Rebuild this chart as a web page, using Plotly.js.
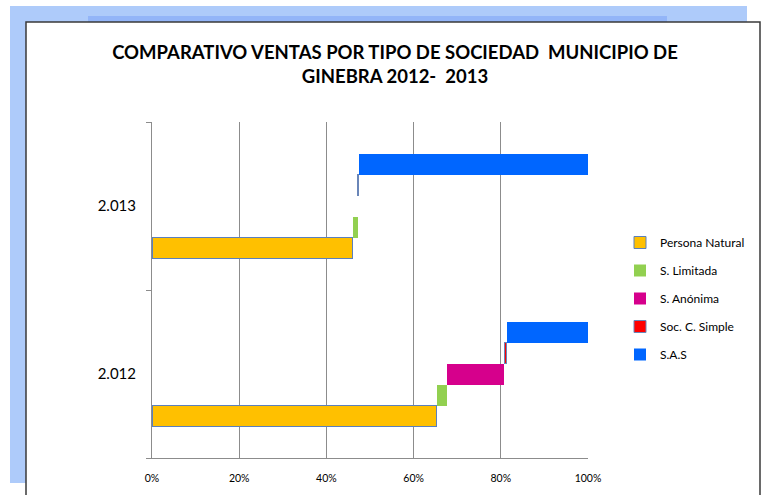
<!DOCTYPE html>
<html>
<head>
<meta charset="utf-8">
<script src="https://cdn.plot.ly/plotly-3.0.1.min.js"></script>
<style>html,body{margin:0;padding:0;background:#fff;}#chart{width:765px;height:495px;}</style>
</head>
<body>
<div id="chart"></div>
<script>
// ---- data (shares of total sales) ----
const years = ['2.012', '2.013'];
const seriesNames = ['Persona Natural', 'S. Limitada', 'S. Anónima', 'Soc. C. Simple', 'S.A.S'];
const personaNatural = [0.653, 0.460];
const sLimitada      = [0.023, 0.012];
const sAnonima       = [0.132, 0.000];
const socCSimple     = [0.006, 0.002];
const sas            = [0.186, 0.526];
const xTickVals = [0, 0.2, 0.4, 0.6, 0.8, 1.0];

// ---- styles ----
const fills = ['#FFC000', '#92D050', '#D6008C', '#FF0000', '#0066FF'];
const lineColors = ['#5B80BD', 'rgba(0,0,0,0)', 'rgba(0,0,0,0)', '#6A86B8', 'rgba(0,0,0,0)'];
const lineWidths = [1, 0, 0, 1, 0];
const values = [personaNatural, sLimitada, sAnonima, socCSimple, sas];
const barW = 0.125;
const offsets = [-0.3125, -0.1875, -0.0625, 0.0625, 0.1875];

const traces = seriesNames.map((name, i) => ({
  type: 'bar',
  orientation: 'h',
  name: name,
  legendgroup: 'g' + i,
  y: years,
  x: values[i],
  width: barW,
  offset: offsets[i],
  marker: {color: fills[i], line: {color: lineColors[i], width: lineWidths[i]}},
  hoverinfo: 'x+name'
}));

// plot area in pixels: x 152..588, y 122..458
const PL = 152, PR = 588, PT = 122, PB = 458;
const px = v => (v - PL) / (PR - PL);
const py = v => (PB - v) / (PB - PT);

const layout = {
  width: 765, height: 495,
  margin: {l: PL, r: 765 - PR, t: PT, b: 495 - PB},
  paper_bgcolor: '#ffffff',
  plot_bgcolor: 'rgba(0,0,0,0)',
  barmode: 'stack',
  font: {family: 'Lato, "Open Sans", sans-serif', color: '#000'},
  title: {
    text: 'COMPARATIVO VENTAS POR TIPO DE SOCIEDAD\u00a0 MUNICIPIO DE<br>GINEBRA 2012-\u00a0 2013',
    font: {family: 'Lato, sans-serif', size: 18.5, weight: 'bold', color: '#000'},
    x: 395 / 765, xanchor: 'center', xref: 'container',
    y: 1 - 59 / 495, yanchor: 'middle', yref: 'container'
  },
  xaxis: {
    range: [0, 1],
    tickvals: xTickVals,
    tickformat: '.0%',
    showgrid: true, gridcolor: '#8c8c8c', gridwidth: 1,
    showline: true, linecolor: '#8c8c8c', linewidth: 1,
    zeroline: false, ticks: '',
    tickfont: {size: 10.5, color: '#000'},
    ticklabelstandoff: 10,
    fixedrange: true
  },
  yaxis: {
    type: 'category',
    categoryorder: 'array', categoryarray: years,
    range: [-0.5, 1.5],
    tickson: 'boundaries',
    ticks: 'outside', ticklen: 5, tickcolor: '#8c8c8c', tickwidth: 1,
    showline: true, linecolor: '#8c8c8c', linewidth: 1,
    showgrid: false, zeroline: false,
    tickfont: {size: 15, color: '#000'},
    ticklabelstandoff: 12,
    fixedrange: true
  },
  legend: {
    x: px(620), xanchor: 'left', y: py(228), yanchor: 'top',
    traceorder: 'grouped', tracegroupgap: 9,
    font: {size: 12, color: '#000'},
    bgcolor: 'rgba(0,0,0,0)', itemwidth: 30
  },
  shapes: [
    {type: 'rect', xref: 'paper', yref: 'paper', layer: 'below',
     x0: px(10), x1: px(747), y0: py(483), y1: py(6),
     fillcolor: '#AECBFA', line: {width: 0}},
    {type: 'rect', xref: 'paper', yref: 'paper', layer: 'below',
     x0: px(88), x1: px(667), y0: py(22), y1: py(16),
     fillcolor: '#93B5F8', line: {width: 0}},
    {type: 'rect', xref: 'paper', yref: 'paper', layer: 'below',
     x0: px(26), x1: px(760), y0: py(510), y1: py(22),
     fillcolor: '#ffffff', line: {color: '#3a3a3a', width: 1.5}}
  ],
  showlegend: true
};

Plotly.newPlot('chart', traces, layout, {displayModeBar: false, staticPlot: true});
</script>
</body>
</html>
